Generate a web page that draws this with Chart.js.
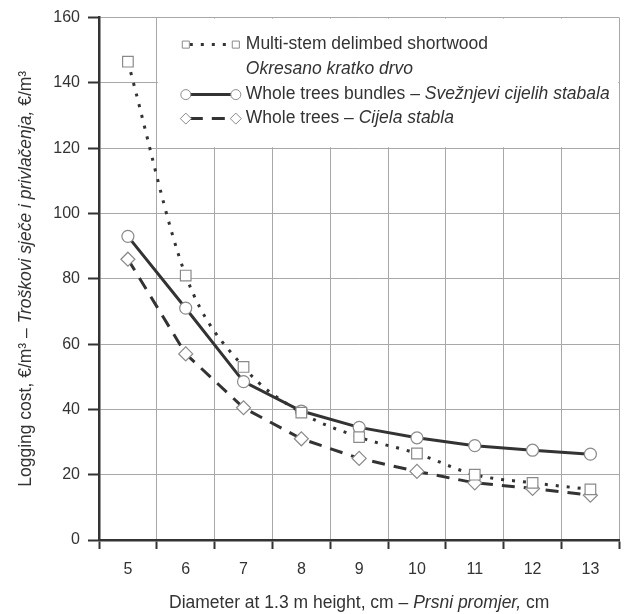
<!DOCTYPE html>
<html>
<head>
<meta charset="utf-8">
<script src="https://cdn.jsdelivr.net/npm/chart.js@4/dist/chart.umd.min.js"></script>
<style>
body { margin: 0; background: #fff; }
</style>
</head>
<body>
<canvas id="canvas" width="628" height="614"></canvas>
<script>
// data
var diameters = ['5', '6', '7', '8', '9', '10', '11', '12', '13'];
var shortwoodCost = [146.5, 81, 53, 39, 31.5, 26.5, 20, 17.5, 15.5];
var bundlesCost = [93, 71, 48.5, 39.5, 34.5, 31.3, 28.9, 27.5, 26.3];
var wholeTreesCost = [86, 57, 40.5, 31, 25, 21, 17.5, 15.8, 13.7];
var yMin = 0, yMax = 160, yStep = 20;

// legend text: lines of [text, italic] pieces
var shortwoodLabel = [[['Multi-stem delimbed shortwood', false]], [['Okresano kratko drvo', true]]];
var bundlesLabel = [[['Whole trees bundles \u2013 ', false], ['Sve\u017enjevi cijelih stabala', true]]];
var wholeTreesLabel = [[['Whole trees \u2013 ', false], ['Cijela stabla', true]]];
var xTitle = [['Diameter at 1.3 m height, cm \u2013 ', false], ['Prsni promjer,', true], [' cm', false]];
var yTitle = [['Logging cost, \u20ac/m\u00b3 \u2013 ', false], ['Tro\u0161kovi sje\u010de i privla\u010denja,', true], [' \u20ac/m\u00b3', false]];

var FONT = "'Liberation Sans', Arial, sans-serif";
var TEXT = '#333333';
var GRID = '#a8a8a8';

function drawPieces(ctx, pieces, x, y, size, align) {
	var total = 0;
	for (var i = 0; i < pieces.length; i++) {
		ctx.font = (pieces[i][1] ? 'italic ' : '') + size + 'px ' + FONT;
		total += ctx.measureText(pieces[i][0]).width;
	}
	var cx = align == 'center' ? x - total / 2 : x;
	for (var i = 0; i < pieces.length; i++) {
		ctx.font = (pieces[i][1] ? 'italic ' : '') + size + 'px ' + FONT;
		ctx.fillText(pieces[i][0], cx, y);
		cx += ctx.measureText(pieces[i][0]).width;
	}
}

var boxLegend = {
	id: 'boxLegend',
	beforeDatasetsDraw: function(chart) {
		var ctx = chart.ctx;
		var xs = chart.scales.x, ys = chart.scales.y;
		var left = (xs.getPixelForValue(0) + xs.getPixelForValue(1)) / 2;
		var top = ys.getPixelForValue(yMax);
		var bottom = ys.getPixelForValue(120);
		var right = chart.chartArea.right;
		ctx.save();
		ctx.fillStyle = '#fff';
		ctx.fillRect(left + 1, top + 1, right - left - 2, bottom - top - 2);

		var rows = [27, 77, 101];
		var labels = [shortwoodLabel, bundlesLabel, wholeTreesLabel];
		var radii = [5, 5, 5.5];
		ctx.textBaseline = 'middle';
		for (var i = 0; i < 3; i++) {
			var ds = chart.data.datasets[i];
			var y = top + rows[i];
			var x1 = left + 29, x2 = left + 79;
			ctx.strokeStyle = ds.borderColor;
			ctx.lineWidth = ds.borderWidth;
			ctx.lineCap = 'butt';
			ctx.setLineDash(ds.borderDash || []);
			ctx.lineDashOffset = -4;
			ctx.beginPath();
			ctx.moveTo(x1, y);
			ctx.lineTo(x2, y);
			ctx.stroke();
			ctx.setLineDash([]);
			ctx.fillStyle = '#fff';
			ctx.strokeStyle = ds.pointBorderColor;
			ctx.lineWidth = 1;
			var opts = {pointStyle: ds.pointStyle, radius: radii[i], rotation: 0, borderWidth: 1};
			Chart.helpers.drawPoint(ctx, opts, x1, y);
			Chart.helpers.drawPoint(ctx, opts, x2, y);
			ctx.fillStyle = TEXT;
			for (var j = 0; j < labels[i].length; j++) {
				drawPieces(ctx, labels[i][j], left + 89, y + j * 25, 17.5, 'left');
			}
		}
		ctx.restore();
	},
	afterDraw: function(chart) {
		var ctx = chart.ctx;
		var area = chart.chartArea;
		ctx.save();
		ctx.fillStyle = TEXT;
		ctx.textBaseline = 'middle';
		drawPieces(ctx, xTitle, (area.left + area.right) / 2, 603, 17.5, 'center');
		ctx.translate(26, (area.top + area.bottom) / 2);
		ctx.rotate(-Math.PI / 2);
		drawPieces(ctx, yTitle, 0, 0, 17.5, 'center');
		ctx.restore();
	}
};

var config = {
	type: 'line',
	data: {
		labels: diameters,
		datasets: [{
			label: 'Multi-stem delimbed shortwood',
			data: shortwoodCost,
			borderColor: '#333',
			borderWidth: 3,
			borderDash: [3, 8],
			borderCapStyle: 'butt',
			cubicInterpolationMode: 'monotone',
			pointStyle: 'rect',
			pointRadius: 7.5,
			pointBorderWidth: 1.2,
			pointBorderColor: '#8a8a8a',
			pointBackgroundColor: '#fff'
		},
		{
			label: 'Whole trees bundles',
			data: bundlesCost,
			borderColor: '#333',
			borderWidth: 3,
			tension: 0,
			pointStyle: 'circle',
			pointRadius: 6,
			pointBorderWidth: 1.2,
			pointBorderColor: '#8a8a8a',
			pointBackgroundColor: '#fff'
		},
		{
			label: 'Whole trees',
			data: wholeTreesCost,
			borderColor: '#333',
			borderWidth: 3,
			borderDash: [13, 9],
			borderCapStyle: 'butt',
			tension: 0,
			pointStyle: 'rectRot',
			pointRadius: 7,
			pointBorderWidth: 1.2,
			pointBorderColor: '#8a8a8a',
			pointBackgroundColor: '#fff'
		}]
	},
	options: {
		responsive: false,
		animation: false,
		devicePixelRatio: 1,
		layout: { padding: { left: 0, top: 16, right: 7, bottom: 0 } },
		plugins: {
			legend: { display: false },
			tooltip: { enabled: false }
		},
		scales: {
			x: {
				type: 'category',
				offset: true,
				grid: {
					offset: true,
					color: GRID,
					lineWidth: 1,
					tickColor: TEXT,
					tickLength: 9,
					tickWidth: 2
				},
				border: { color: TEXT, width: 2.5 },
				ticks: {
					color: TEXT,
					padding: 11,
					font: { family: FONT, size: 16 }
				},
				afterFit: function(scale) { scale.height = 74; }
			},
			y: {
				min: yMin,
				max: yMax,
				grid: {
					color: GRID,
					lineWidth: 1,
					tickColor: TEXT,
					tickLength: 11,
					tickWidth: 2
				},
				border: { color: TEXT, width: 2.5 },
				ticks: {
					stepSize: yStep,
					color: TEXT,
					padding: 8,
					font: { family: FONT, size: 16 }
				},
				afterFit: function(scale) { scale.width = 99; }
			}
		}
	},
	plugins: [boxLegend]
};

var ctx = document.getElementById('canvas').getContext('2d');
window.myLine = new Chart(ctx, config);
</script>
</body>
</html>
